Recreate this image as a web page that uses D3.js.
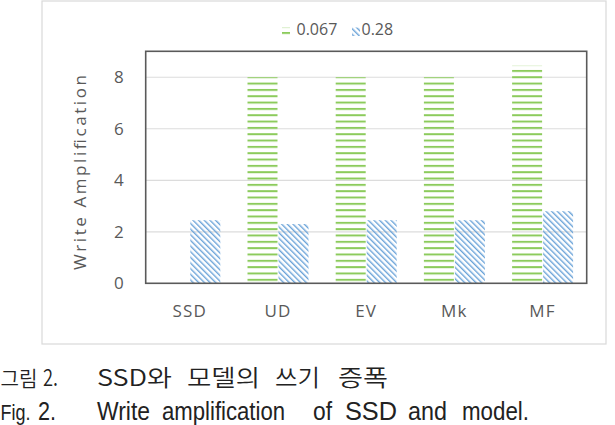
<!DOCTYPE html>
<html><head><meta charset="utf-8">
<script src="https://cdn.jsdelivr.net/npm/d3@7"></script>
<style>html,body{margin:0;padding:0;background:#fff;overflow:hidden}</style>
</head><body>
<svg id="c" width="615" height="425"></svg>
<script>
const categories = ["SSD", "UD", "EV", "Mk", "MF"];
const seriesNames = ["0.067", "0.28"];
const seriesA = [null, 8.0, 8.0, 8.0, 8.45];   // 0.067
const seriesB = [2.45, 2.3, 2.45, 2.45, 2.8];  // 0.28
const yTicks = [0, 2, 4, 6, 8];
const yTitle = "Write Amplification";
const captionKoLabel = ["그림", "2."];
const captionKoWords = ["SSD와", "모델의", "쓰기", "증폭"];
const captionEnLabel = ["Fig.", "2."];
const captionEnWords = ["Write", "amplification", "of", "SSD", "and", "model."];

const svg = d3.select("#c");
const defs = svg.append("defs");
const green = "#8ccb5c", blue = "#6aa3d8", txt = "#595959";

const box = {l: 145.7, r: 586.7, t: 51.3};
const y = d3.scaleLinear().domain([0, 9]).range([283.3, 51.5]);
const x = d3.scaleBand().domain(categories).range([box.l, box.r]).paddingInner(0).paddingOuter(0);
const bw = 30;

// patterns
const pg = defs.append("pattern").attr("id","pg").attr("patternUnits","userSpaceOnUse")
  .attr("width",8).attr("height",6.33).attr("y", y(8) - 1);
pg.append("rect").attr("x",0).attr("y",0).attr("width",8).attr("height",2).attr("fill",green);
const pb = defs.append("pattern").attr("id","pb").attr("patternUnits","userSpaceOnUse")
  .attr("width",4).attr("height",4).attr("patternTransform","rotate(-45)");
pb.append("rect").attr("x",0).attr("y",0).attr("width",1.4).attr("height",4).attr("fill",blue);

// outer frame
svg.append("rect").attr("x",42).attr("y",1).attr("width",564).attr("height",343)
  .attr("fill","#fff").attr("stroke","#d9d9d9").attr("stroke-width",1.2);

// gridlines
svg.append("g").selectAll("line").data(yTicks.filter(d=>d>0)).join("line")
  .attr("x1",box.l).attr("x2",box.r).attr("y1",d=>y(d)).attr("y2",d=>y(d))
  .attr("stroke","#dcdcdc").attr("stroke-width",1.2);

// bars
const gb = svg.append("g");
gb.selectAll("rect.a").data(categories.map((c,i)=>({c,v:seriesA[i]})).filter(d=>d.v!=null)).join("rect")
  .attr("class","a").attr("x",d=>x(d.c)+x.bandwidth()/2-bw-0.5).attr("width",bw)
  .attr("y",d=>y(d.v)).attr("height",d=>y(0)-y(d.v)).attr("fill","url(#pg)");
gb.selectAll("rect.b").data(categories.map((c,i)=>({c,v:seriesB[i]}))).join("rect")
  .attr("class","b").attr("x",d=>x(d.c)+x.bandwidth()/2+0.5).attr("width",bw)
  .attr("y",d=>y(d.v)).attr("height",d=>y(0)-y(d.v)).attr("fill","url(#pb)");

// plot box
svg.append("rect").attr("x",box.l).attr("y",box.t).attr("width",box.r-box.l).attr("height",y(0)-box.t)
  .attr("fill","none").attr("stroke","#5a5a5a").attr("stroke-width",1.6);

// y axis
const ya = svg.append("g").attr("transform",`translate(${box.l},0)`)
  .call(d3.axisLeft(y).tickValues(yTicks).tickSize(0).tickPadding(22).tickFormat(d3.format("d")));
ya.select(".domain").remove();
ya.selectAll("text").attr("font-family","'Open Sans',sans-serif").attr("font-size",17).attr("fill",txt);

// x axis
const xa = svg.append("g").attr("transform",`translate(0,${y(0)})`)
  .call(d3.axisBottom(x).tickSize(0).tickPadding(22));
xa.select(".domain").remove();
xa.selectAll("text").attr("font-family","'Open Sans',sans-serif").attr("font-size",17)
  .attr("fill",txt).attr("letter-spacing",1.2);

// y title
svg.append("text").attr("transform","translate(86,172.5) rotate(-90)").attr("text-anchor","middle")
  .attr("font-family","'Open Sans',sans-serif").attr("font-size",17).attr("fill",txt)
  .attr("textLength",195).attr("lengthAdjust","spacing").text(yTitle);

// legend
const lg = svg.append("g").attr("font-family","'Open Sans',sans-serif").attr("font-size",16).attr("fill",txt);
const lgItems = [{name:seriesNames[0],sx:282,tx:296.5,fill:"url(#pg)"},{name:seriesNames[1],sx:352,tx:361.5,fill:"url(#pb)"}];
lg.selectAll("rect").data(lgItems).join("rect").attr("x",d=>d.sx).attr("y",27.5).attr("width",8).attr("height",8.5)
  .attr("fill",d=>d.fill);
lg.selectAll("text").data(lgItems).join("text").attr("x",d=>d.tx).attr("y",35).text(d=>d.name);

// caption line 1 (Korean)
const koPos = [[0.5, 37, 21], [43, 15, 23]];
const koWordPos = [[97, 75], [187, 73], [275, 45], [338, 50]];
const c1 = svg.append("g").attr("font-family","'Noto Sans CJK KR',sans-serif").attr("font-size",23)
  .attr("font-weight",350).attr("fill","#222");
c1.selectAll("text.l").data(captionKoLabel).join("text").attr("class","l")
  .attr("x",(d,i)=>koPos[i][0]).attr("y",386).attr("textLength",(d,i)=>koPos[i][1])
  .attr("font-size",(d,i)=>koPos[i][2])
  .attr("lengthAdjust","spacingAndGlyphs").text(d=>d);
c1.selectAll("text.w").data(captionKoWords).join("text").attr("class","w")
  .attr("x",(d,i)=>koWordPos[i][0]).attr("y",386).attr("textLength",(d,i)=>koWordPos[i][1])
  .attr("lengthAdjust","spacingAndGlyphs").text(d=>d);

// caption line 2 (English)
const enPos = [[0.5, 30, 22], [38, 18, 26]];
const enWordPos = [[97, 53], [162, 123], [313, 19], [345, 52], [408, 39], [462, 67]];
const c2 = svg.append("g").attr("font-family","'Liberation Sans Narrow','Liberation Sans',Arial,sans-serif")
  .attr("font-size",26).attr("fill","#222");
c2.selectAll("text.l").data(captionEnLabel).join("text").attr("class","l")
  .attr("x",(d,i)=>enPos[i][0]).attr("y",420).attr("textLength",(d,i)=>enPos[i][1])
  .attr("font-size",(d,i)=>enPos[i][2])
  .attr("lengthAdjust","spacingAndGlyphs").text(d=>d);
c2.selectAll("text.w").data(captionEnWords).join("text").attr("class","w")
  .attr("x",(d,i)=>enWordPos[i][0]).attr("y",420).attr("textLength",(d,i)=>enWordPos[i][1])
  .attr("lengthAdjust","spacingAndGlyphs").text(d=>d);
</script>
</body></html>
